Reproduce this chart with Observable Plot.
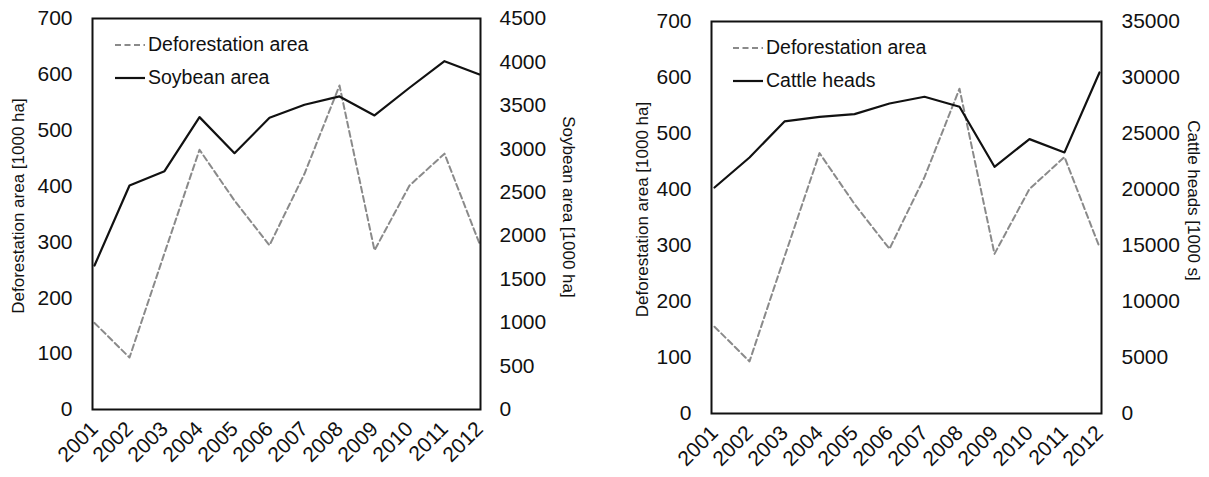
<!DOCTYPE html>
<html><head><meta charset="utf-8">
<script src="https://cdn.jsdelivr.net/npm/d3@7"></script>
<script src="https://cdn.jsdelivr.net/npm/@observablehq/plot@0.6"></script>
<style>
body{margin:0;background:#fff;font-family:"Liberation Sans",Arial,sans-serif;}
#wrap{position:relative;width:1209px;height:477px;display:flex;}
.panel{position:relative;}
.panel svg{display:block;}
.legend{position:absolute;font-size:19.5px;color:#111;font-family:"Liberation Sans",Arial,sans-serif;}
.legend .row{display:flex;align-items:center;height:33px;}
.legend svg{margin-right:3px;}
</style></head><body><div id="wrap"></div>
<script>
const years = [2001,2002,2003,2004,2005,2006,2007,2008,2009,2010,2011,2012];
const deforestation = [155,93,280,465,374,294,422,580,285,401,458,297];
const soybean = [1657,2578,2743,3365,2950,3357,3507,3603,3384,3703,4009,3856];
const cattle = [20180,22860,26080,26490,26730,27680,28280,27390,22030,24500,23310,30450];
const deforTicks = [0,100,200,300,400,500,600,700];
const soyTicks = [0,500,1000,1500,2000,2500,3000,3500,4000,4500];
const cattleTicks = [0,5000,10000,15000,20000,25000,30000,35000];
const deforLabel = "Deforestation area [1000 ha]";
const soyLabel = "Soybean area [1000 ha]";
const cattleLabel = "Cattle heads [1000 s]";
const deforName = "Deforestation area";
const soyName = "Soybean area";
const cattleName = "Cattle heads";

const DEF_MAX = 700;
const INK = "#111";
const GRAY = "#8a8a8a";

function panel(cfg) {
  const k = DEF_MAX / cfg.secMax;
  const rows = years.map((year, i) => ({year, defor: deforestation[i], sec: cfg.secValues[i] * k}));
  const plot = Plot.plot({
    width: cfg.width, height: 477,
    marginLeft: cfg.ml, marginRight: cfg.mr, marginTop: cfg.mt, marginBottom: cfg.mb,
    style: {fontFamily: '"Liberation Sans", Arial, sans-serif', color: INK, background: "#fff"},
    x: {type: "point", domain: years, padding: 0},
    y: {domain: [0, DEF_MAX]},
    marks: [
      Plot.line(rows, {x: "year", y: "defor", stroke: GRAY, strokeWidth: 2, strokeDasharray: "6,3.5"}),
      Plot.line(rows, {x: "year", y: "sec", stroke: INK, strokeWidth: 2.2}),
      Plot.frame({stroke: INK, strokeWidth: 2}),
      Plot.axisY(deforTicks, {anchor: "left", tickSize: 0, tickPadding: cfg.lp, fontSize: 21, label: null, tickFormat: d => `${d}`}),
      Plot.axisY(cfg.secTicks.map(v => v * k), {anchor: "right", tickSize: 0, tickPadding: cfg.rp, fontSize: 21, label: null, tickFormat: d => `${Math.round(d / k)}`}),
      Plot.axisX(years, {anchor: "bottom", tickSize: 0, tickPadding: 16, tickRotate: -45, fontSize: 21, label: null, tickFormat: d => `${d}`}),
      Plot.text([deforLabel], {frameAnchor: "left", textAnchor: "middle", dx: cfg.ltdx, dy: cfg.ltdy, rotate: -90, fontSize: 17, fill: INK}),
      Plot.text([cfg.secLabel], {frameAnchor: "right", textAnchor: "middle", dx: cfg.rtdx, dy: cfg.rtdy, rotate: 90, fontSize: 17, fill: INK})
    ]
  });
  const div = document.createElement("div");
  div.className = "panel";
  div.style.width = cfg.width + "px";
  div.appendChild(plot);
  const lg = document.createElement("div");
  lg.className = "legend";
  lg.style.left = cfg.lgx + "px";
  lg.style.top = cfg.lgy + "px";
  const items = [[deforName, GRAY, "6,3.5", 2], [cfg.secName, INK, null, 2.2]];
  for (const [name, color, dash, w] of items) {
    const r = document.createElement("div");
    r.className = "row";
    r.innerHTML = `<svg width="30" height="10"><line x1="0" x2="30" y1="5" y2="5" stroke="${color}" stroke-width="${w}" ${dash ? `stroke-dasharray="${dash}"` : ""}/></svg><span>${name}</span>`;
    lg.appendChild(r);
  }
  div.appendChild(lg);
  return div;
}

const wrap = document.getElementById("wrap");
wrap.appendChild(panel({
  width: 604, ml: 92, mr: 124, mt: 18, mb: 68, lp: 20, rp: 19,
  secValues: soybean, secMax: 4500, secTicks: soyTicks, secLabel: soyLabel, secName: soyName,
  ltdx: -74, ltdy: -8, rtdx: 88, rtdy: -7, lgx: 115, lgy: 28
}));
wrap.appendChild(panel({
  width: 605, ml: 107, mr: 108, mt: 21, mb: 64, lp: 20, rp: 20,
  secValues: cattle, secMax: 35000, secTicks: cattleTicks, secLabel: cattleLabel, secName: cattleName,
  ltdx: -69, ltdy: -8, rtdx: 92, rtdy: -17, lgx: 129, lgy: 31
}));
</script></body></html>
